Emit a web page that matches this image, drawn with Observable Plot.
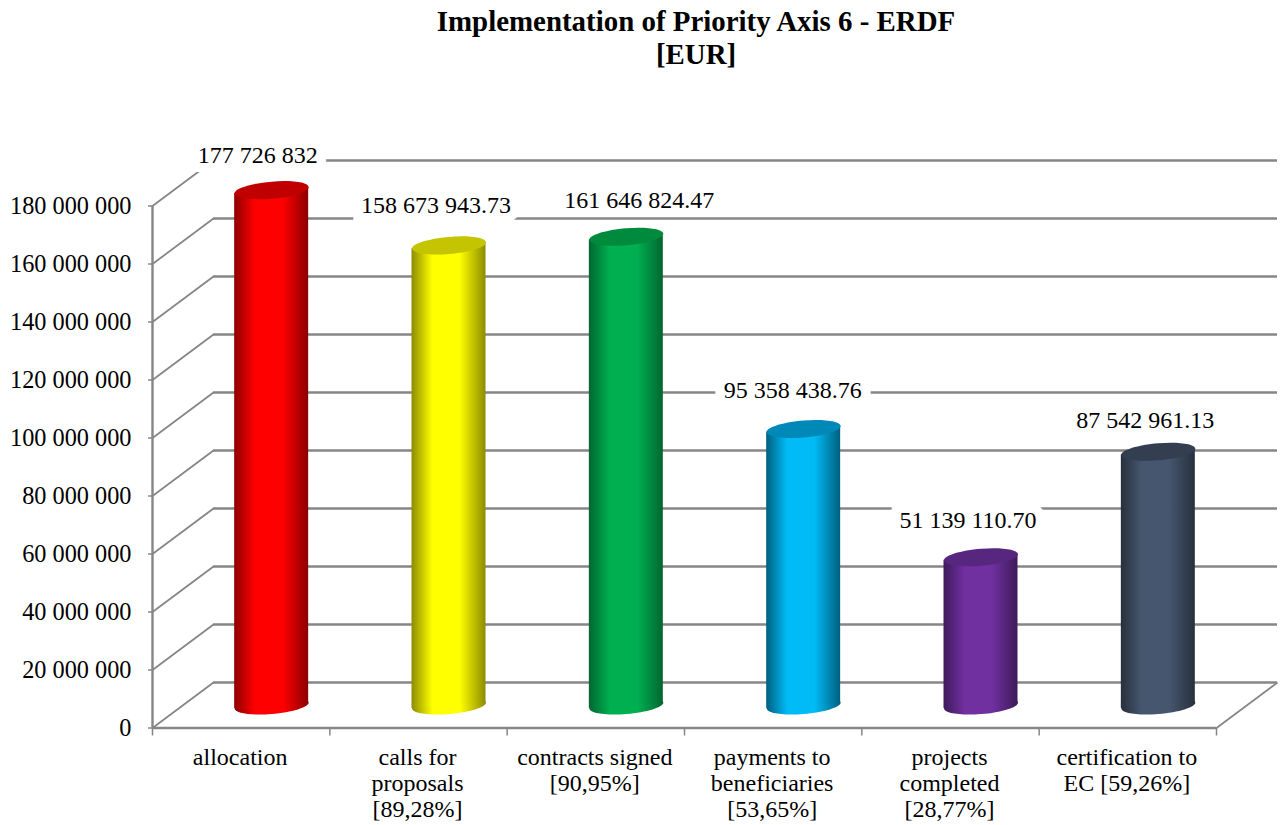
<!DOCTYPE html>
<html>
<head>
<meta charset="utf-8">
<script src="https://cdn.jsdelivr.net/npm/d3@7"></script>
<script src="https://cdn.jsdelivr.net/npm/@observablehq/plot@0.6"></script>
<style>
  html, body { margin: 0; padding: 0; background: #fff; }
  #title { box-sizing: border-box; height: 100px; width: 1280px; padding: 5px 0 0 112px; text-align: center;
    font: bold 28.9px/33px "Liberation Serif", serif; color: #000; }
  svg { display: block; }
</style>
</head>
<body>
<div id="title">Implementation of Priority Axis 6 - ERDF<br>[EUR]</div>
<div id="chart"></div>
<script>
const categories = ["allocation", "calls for\nproposals\n[89,28%]", "contracts signed\n[90,95%]", "payments to\nbeneficiaries\n[53,65%]", "projects\ncompleted\n[28,77%]", "certification to\nEC [59,26%]"];
const values = [177726832, 158673943.73, 161646824.47, 95358438.76, 51139110.70, 87542961.13];
const valueLabels = ["177 726 832", "158 673 943.73", "161 646 824.47", "95 358 438.76", "51 139 110.70", "87 542 961.13"];
const yTicks = [0, 20e6, 40e6, 60e6, 80e6, 100e6, 120e6, 140e6, 160e6, 180e6];
const xTicks = [0, 1, 2, 3, 4, 5, 6];
const bodyMid = ["#ff0000", "#ffff00", "#00b050", "#00bbf5", "#7030a0", "#46566e"];
const bodyEdge = ["#8c0000", "#8c8c00", "#006630", "#005f80", "#3e1a5a", "#27303d"];
const capColor = ["#c00000", "#c4c400", "#008a3e", "#0088b8", "#572780", "#333f50"];
const labelShift = [[-14, -34.5], [-13, -40], [13, -36.5], [-11, -38.5], [-13, -36.5], [-13, -31.5]];

// Depth of the 3D box in data units
const depthX = 0.344, depthY = 15.7e6;
const baseY = 7.74e6, tiltY = 1.03e6, halfW = 0.2086;
const cx = i => i + 0.5 + depthX / 2;
const ink = "#868686";
const font = '"Liberation Serif", serif';

const idx = values.map((_, i) => i);
const bodyPts = idx.flatMap(i => [
  {i, x: cx(i) - halfW, top: values[i] + baseY - tiltY, bot: baseY - tiltY},
  {i, x: cx(i) + halfW, top: values[i] + baseY + tiltY, bot: baseY + tiltY}
]);

// Ellipse sheared so its left tip hangs lower than its right tip
const skewEllipse = {
  draw(ctx, size) {
    const rx = Math.sqrt(size / Math.PI), ry = rx * 0.23, k = 3 / 37, c = 0.5523;
    const p = (a, b) => [a * rx, b * ry - k * a * rx];
    ctx.moveTo(...p(1, 0));
    ctx.bezierCurveTo(...p(1, c), ...p(c, 1), ...p(0, 1));
    ctx.bezierCurveTo(...p(-c, 1), ...p(-1, c), ...p(-1, 0));
    ctx.bezierCurveTo(...p(-1, -c), ...p(-c, -1), ...p(0, -1));
    ctx.bezierCurveTo(...p(c, -1), ...p(1, -c), ...p(1, 0));
    ctx.closePath();
  }
};

// Value labels sit clear of their cylinder, each with its own hand-placed shift
const shiftLabels = (index, scales, channels, dims, ctx, next) => {
  const g = next(index, scales, channels, dims, ctx);
  d3.select(g).selectAll("text").attr("transform", (_, k) => {
    const i = index[k];
    return `translate(${scales.x(cx(i)) + labelShift[i][0]},${scales.y(values[i] + baseY) + labelShift[i][1]})`;
  });
  return g;
};

const plot = Plot.plot({
  width: 1280, height: 725,
  marginLeft: 152, marginRight: 64, marginTop: 105.5, marginBottom: 97.5,
  x: {type: "linear", domain: [0, 6], axis: null},
  y: {type: "linear", domain: [0, 180e6], axis: null},
  color: {type: "identity"},
  style: {background: "#fff", overflow: "visible"},
  marks: [
    // back wall
    Plot.ruleY(yTicks, {y: d => d + depthY, x1: depthX, x2: 6 + depthX, stroke: ink, strokeWidth: 2.4}),
    // side wall and floor edge
    Plot.link(yTicks, {x1: 0, y1: d => d, x2: depthX, y2: d => d + depthY, stroke: ink, strokeWidth: 1.8}),
    Plot.link([0], {x1: 6, y1: 0, x2: 6 + depthX, y2: depthY, stroke: ink, strokeWidth: 1.8}),
    // axes
    Plot.ruleY([0], {x1: 0, x2: 6, stroke: ink, strokeWidth: 2.4}),
    Plot.ruleX([0], {y1: 0, y2: 180e6, stroke: ink, strokeWidth: 2.4}),
    Plot.axisY(yTicks, {
      tickSize: 4, tickPadding: 17, stroke: ink, fill: "#000",
      tickFormat: d => d3.format(",")(d).replace(/,/g, " "),
      fontSize: 24.3, fontFamily: font, label: null, strokeWidth: 1.5
    }),
    Plot.axisX(xTicks, {
      tickSize: 8, stroke: ink, tickFormat: () => "", label: null, anchor: "bottom", strokeWidth: 1.5
    }),
    // category labels
    Plot.text(idx, {
      x: i => i + 0.5, y: 0, dx: -1, dy: 19, text: i => categories[i],
      lineAnchor: "top", lineHeight: 1.083, fontSize: 24, fontFamily: font, fill: "#000"
    }),
    // cylinders
    Plot.dot(idx, {
      x: i => cx(i), y: () => baseY, r: 37, symbol: skewEllipse,
      fill: i => `url(#cyl${i})`, stroke: "none"
    }),
    Plot.areaY(bodyPts, {
      x: "x", y1: "bot", y2: "top", z: "i",
      fill: d => `url(#cyl${d.i})`, stroke: "none"
    }),
    Plot.dot(idx, {
      x: i => cx(i), y: i => values[i] + baseY, r: 37, symbol: skewEllipse,
      fill: i => capColor[i], stroke: "none"
    }),
    // white knock-out through the gridlines behind each value label
    Plot.text(idx, {
      x: i => cx(i), y: i => values[i] + baseY, text: i => valueLabels[i].replace(/ /g, "l"),
      fontSize: 24, fontFamily: font, ariaHidden: "true",
      fill: "#fff", stroke: "#fff", strokeWidth: 18, strokeLinejoin: "miter",
      render: shiftLabels
    }),
    // value labels
    Plot.text(idx, {
      x: i => cx(i), y: i => values[i] + baseY, text: i => valueLabels[i],
      fontSize: 24, fontFamily: font, fill: "#000",
      render: shiftLabels
    })
  ]
});

// Horizontal shading of each cylinder
const defs = d3.select(plot).append("defs");
idx.forEach(i => {
  const g = defs.append("linearGradient").attr("id", `cyl${i}`).attr("x1", 0).attr("x2", 1).attr("y1", 0).attr("y2", 0);
  [[0, bodyEdge[i]], [0.28, bodyMid[i]], [0.65, bodyMid[i]], [1, bodyEdge[i]]].forEach(([o, c]) =>
    g.append("stop").attr("offset", o).attr("stop-color", c));
});
document.getElementById("chart").appendChild(plot);
</script>
</body>
</html>
